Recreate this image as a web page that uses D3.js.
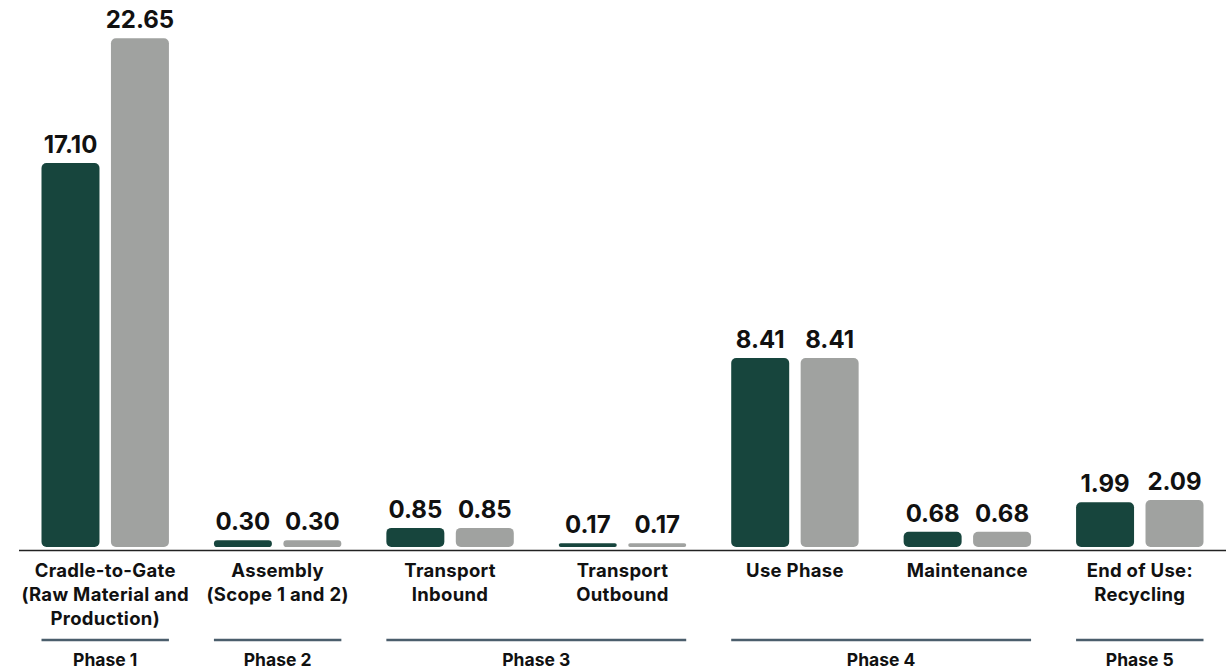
<!DOCTYPE html>
<html><head><meta charset="utf-8">
<script src="https://cdn.jsdelivr.net/npm/d3@7"></script>
<style>body{margin:0;background:#fff}svg{display:block}text{font-family:Inter,"Noto Sans",sans-serif;font-weight:700;fill:#111}</style>
</head><body><svg id="c" width="1232" height="669"></svg>
<script>
const categories = ["Cradle-to-Gate|(Raw Material and|Production)","Assembly|(Scope 1 and 2)","Transport|Inbound","Transport|Outbound","Use Phase","Maintenance","End of Use:|Recycling"];
const seriesA = [17.10,0.30,0.85,0.17,8.41,0.68,1.99];
const seriesB = [22.65,0.30,0.85,0.17,8.41,0.68,2.09];
const phases = ["Phase 1","Phase 2","Phase 3","Phase 4","Phase 5"];
const phaseSpans = [[0,0],[1,1],[2,3],[4,5],[6,6]];
const colors = ["#17453d","#a0a2a0"];

const svg = d3.select("#c");
const x = d3.scaleBand().domain(d3.range(categories.length)).range([19,1226]).paddingInner(0).paddingOuter(0);
const inner = d3.scaleBand().domain([0,1]).range([22.5, x.bandwidth()-22.5]).paddingInner(0.165);
const y = d3.scaleLinear().domain([0,22.65]).range([547,38.3]);

svg.append("line").attr("x1",19).attr("x2",1226).attr("y1",550.5).attr("y2",550.5).attr("stroke","#222").attr("stroke-width",1.5);

const data = [];
categories.forEach((c,i)=>{[seriesA[i],seriesB[i]].forEach((v,s)=>data.push({i,s,v}));});
const g = svg.append("g");
data.forEach(d=>{
  const bx = x(d.i)+inner(d.s), bw = inner.bandwidth();
  const h = y(0)-y(d.v);
  const r = Math.min(5, h/2, bw/2);
  g.append("rect").attr("x",bx).attr("y",y(d.v)).attr("width",bw).attr("height",h).attr("rx",r).attr("ry",r).attr("fill",colors[d.s]);
  g.append("text").attr("x",bx+bw/2).attr("y",y(d.v)-10).attr("text-anchor","middle").attr("font-size",24).attr("font-weight",800).text(d.v.toFixed(2));
});

categories.forEach((c,i)=>{
  const cx = x(i)+x.bandwidth()/2;
  const t = svg.append("text").attr("x",cx).attr("y",577.3).attr("text-anchor","middle").attr("font-size",18.5).attr("letter-spacing",0.3);
  c.split("|").forEach((ln,k)=>t.append("tspan").attr("x",cx).attr("dy",k?24:0).text(ln));
});

phases.forEach((p,k)=>{
  const [a,b]=phaseSpans[k];
  const x1 = x(a)+inner(0), x2 = x(b)+inner(1)+inner.bandwidth();
  svg.append("line").attr("x1",x1).attr("x2",x2).attr("y1",640).attr("y2",640).attr("stroke","#4b5e6c").attr("stroke-width",2.5);
  svg.append("text").attr("x",(x1+x2)/2).attr("y",666).attr("text-anchor","middle").attr("font-size",17.5).text(p);
});
</script></body></html>
